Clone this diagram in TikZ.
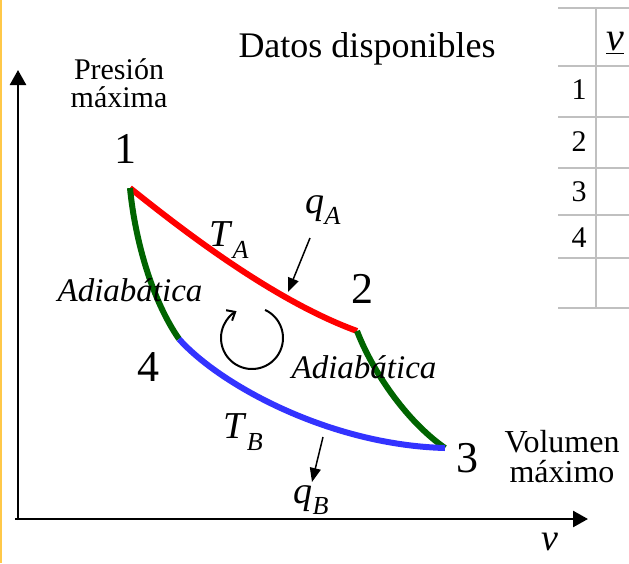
\documentclass[tikz,border=0pt]{standalone}
\usepackage{fontspec}
\setmainfont{Liberation Serif}
\usepackage{tikz}
\usetikzlibrary{arrows.meta, calc}
\definecolor{isoA}{HTML}{FF0000}
\definecolor{isoB}{HTML}{3333FF}
\definecolor{adiab}{HTML}{006400}
\definecolor{edge}{HTML}{FFC848}
\definecolor{grid}{HTML}{C0C0C0}
\newcommand{\fs}[1]{\fontsize{#1}{#1}\selectfont}
\newcommand{\idx}[2]{\textit{#1}\raisebox{-0.3em}{\fs{26}\textit{#2}}}

\begin{document}
\begin{tikzpicture}[
    x=1pt, y=-1pt,
    lbl/.style={inner sep=0pt, align=center, font=\fs{30}},
    state/.style={inner sep=0pt, font=\fs{44}},
    curve/.style={line width=6pt},
    heat/.style={-{Triangle[length=14pt, width=11pt]}, line width=1.5pt},
    axis/.style={-{Triangle[length=15pt, width=16pt]}, line width=2.5pt},
    gridline/.style={draw=grid, line width=2.5pt}
]
\useasboundingbox (0,0) rectangle (629,563);
\draw[edge, line width=2.5pt] (1,0) -- (1,563);

% axes
\coordinate (o) at (18,519);
\coordinate (ytop) at (18,70);
\coordinate (xend) at (588,519);
\draw[axis] ($(o)+(0,1)$) -- (ytop);
\draw[axis] ($(o)+(-3,0)$) -- (xend);

% states
\coordinate (p1) at (130,188);
\coordinate (p2) at (357,331);
\coordinate (p3) at (445,448);
\coordinate (p4) at (179,339);

\draw[curve, isoA] (p1) .. controls (180,228) and (272,300) .. (p2);
\draw[curve, adiab] (p1) .. controls (135,240) and (152,300) .. (p4);
\draw[curve, adiab] (p2) .. controls (372,370) and (405,420) .. (p3);
\draw[curve, isoB] (p4) .. controls (220,385) and (330,445) .. (p3);

\node[state] (n1) at (125,149) {1};
\node[state] (n2) at (362,289) {2};
\node[state] (n3) at (467,458) {3};
\node[state] (n4) at (148,367) {4};

\node[lbl] (pmax) at (119,83) {Presión\\[-2pt]máxima};
\node[lbl, font=\fs{36}] (datos) at (367,49) {Datos disponibles};
\node[lbl, font=\fs{32}] (vmax) at (562,457) {Volumen\\[-2pt]máximo};
\node[lbl, font=\fs{38}\itshape] (vax) at (550,542) {v};

\node[lbl, font=\fs{33}\itshape] (ad1) at (130,290) {Adiabática};
\node[lbl, font=\fs{33}\itshape] (ad2) at (364,367) {Adiabática};

\node[lbl, font=\fs{38}] (ta) at (229,240) {\idx{T}{A}};
\node[lbl, font=\fs{38}] (qa) at (323,210) {\idx{q}{A}};
\node[lbl, font=\fs{38}] (tb) at (243,432) {\idx{T}{B}};
\node[lbl, font=\fs{38}] (qb) at (311,500) {\idx{q}{B}};

\coordinate (qaend) at (288,292);
\coordinate (qbend) at (312,482);
\draw[heat] (310,238) -- (qaend);
\draw[heat] (323,437) -- (qbend);

% cycle sense
\coordinate (cyc) at (252,338);
\draw[line width=2pt, -{Straight Barb[length=7pt, width=12pt]}]
  ($(cyc)+(-65:31)$) arc[start angle=-65, end angle=240, radius=31];

% table
\foreach \yy in {8,66,117,168,215,258,308}
  \draw[gridline] (558,\yy) -- (629,\yy);
\draw[gridline] (596,8) -- (596,308);
\foreach \k/\yy in {1/90,2/142,3/192,4/238}
  \node[lbl, font=\fs{30}] (row\k) at (579,\yy) {\k};
\node[lbl, font=\fs{40}\itshape] (vcol) at (615,43) {\underline{v}};
\end{tikzpicture}
\end{document}
